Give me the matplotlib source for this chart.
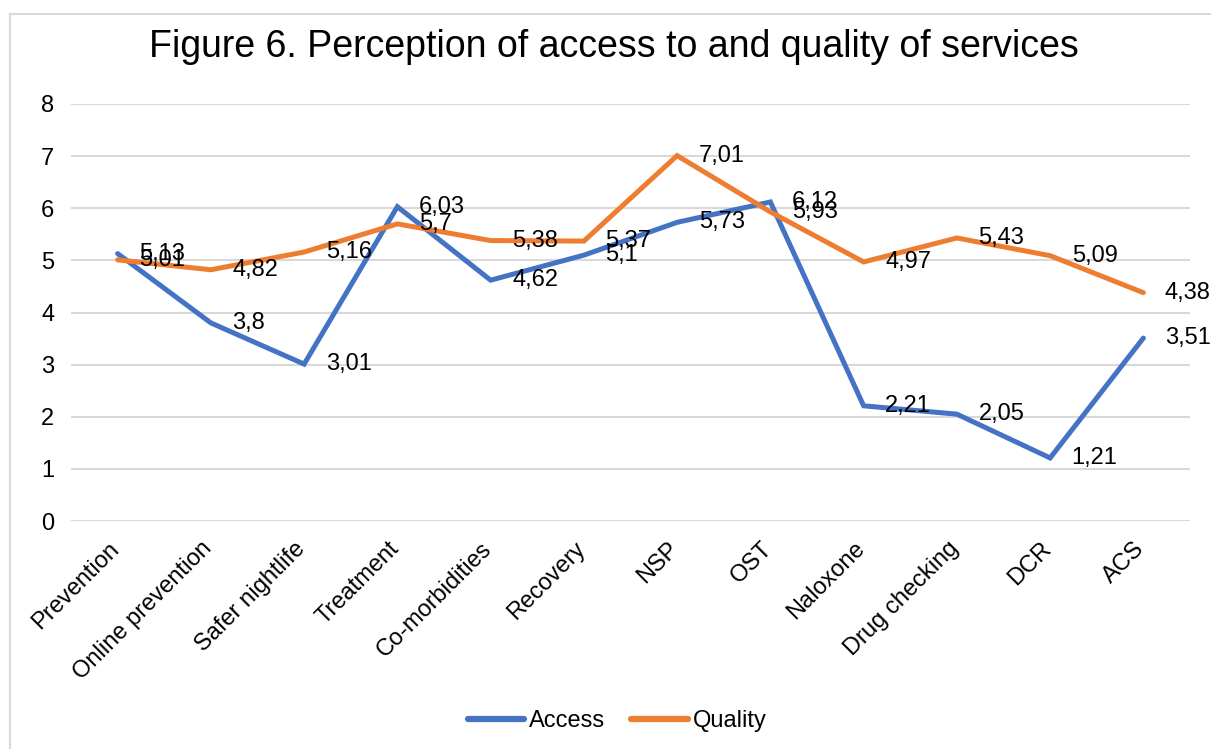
import matplotlib
matplotlib.use("Agg")
import matplotlib.pyplot as plt
from matplotlib.lines import Line2D

plt.rcParams['font.family'] = ['Liberation Sans', 'DejaVu Sans']

# Data
categories = ['Prevention', 'Online prevention', 'Safer nightlife', 'Treatment',
              'Co-morbidities', 'Recovery', 'NSP', 'OST', 'Naloxone',
              'Drug checking', 'DCR', 'ACS']
access = [5.13, 3.8, 3.01, 6.03, 4.62, 5.1, 5.73, 6.12, 2.21, 2.05, 1.21, 3.51]
quality = [5.01, 4.82, 5.16, 5.7, 5.38, 5.37, 7.01, 5.93, 4.97, 5.43, 5.09, 4.38]

blue = '#4472C4'
orange = '#ED7D31'
grid_col = '#D9D9D9'
fs = 17

fig = plt.figure(figsize=(12.11, 7.49), dpi=100)
ax = fig.add_axes([71 / 1211, 1 - 521 / 749, (1190 - 71) / 1211, (521 - 104) / 749])

x = list(range(len(categories)))
ax.plot(x, access, color=blue, lw=3.6, label='Access', solid_joinstyle='miter',
        solid_capstyle='round', zorder=3)
ax.plot(x, quality, color=orange, lw=3.6, label='Quality', solid_joinstyle='miter',
        solid_capstyle='round', zorder=3)

def fmt(v):
    return ('%g' % v).replace('.', ',')

# data labels to the right of each point
for series in (access, quality):
    for xi, v in zip(x, series):
        ax.annotate(fmt(v), (xi, v), xytext=(15.5, 0), textcoords='offset points',
                    ha='left', va='center', fontsize=fs, color='black', zorder=4)

ax.set_xlim(-0.5, len(categories) - 0.5)
ax.set_ylim(0, 8)
ax.set_yticks(range(0, 9))
ax.yaxis.grid(True, color=grid_col, lw=1.5)
ax.set_axisbelow(True)
for s in ax.spines.values():
    s.set_visible(False)
ax.tick_params(axis='both', length=0, labelsize=fs)
ax.tick_params(axis='y', pad=12)
ax.set_xticks(x)
ax.set_xticklabels([])

# rotated category labels, anchored a bit below/left of each tick
for xi, name in zip(x, categories):
    ax.annotate(name, (xi, 0), xycoords=ax.get_xaxis_transform(),
                xytext=(-7, -12), textcoords='offset points',
                rotation=45, rotation_mode='anchor', ha='right', va='top',
                fontsize=fs, color='black')

fig.text(614 / 1211, 1 - 47 / 749, 'Figure 6. Perception of access to and quality of services',
         ha='center', va='center', fontsize=27)

leg = fig.legend(loc='center', bbox_to_anchor=(617 / 1211, 1 - 721 / 749), ncol=2, frameon=False,
                 fontsize=fs, handlelength=2.4, handletextpad=0.2, columnspacing=1.1)
for h in leg.get_lines():
    h.set_linewidth(4.5)
    h.set_solid_capstyle('round')

# outer chart frame
fig.add_artist(Line2D([10 / 1211, 1], [1 - 14 / 749] * 2, color=grid_col, lw=1.5))
fig.add_artist(Line2D([10 / 1211] * 2, [0, 1 - 14 / 749], color=grid_col, lw=1.5))

fig.savefig('out.png', dpi=100, facecolor='white')
